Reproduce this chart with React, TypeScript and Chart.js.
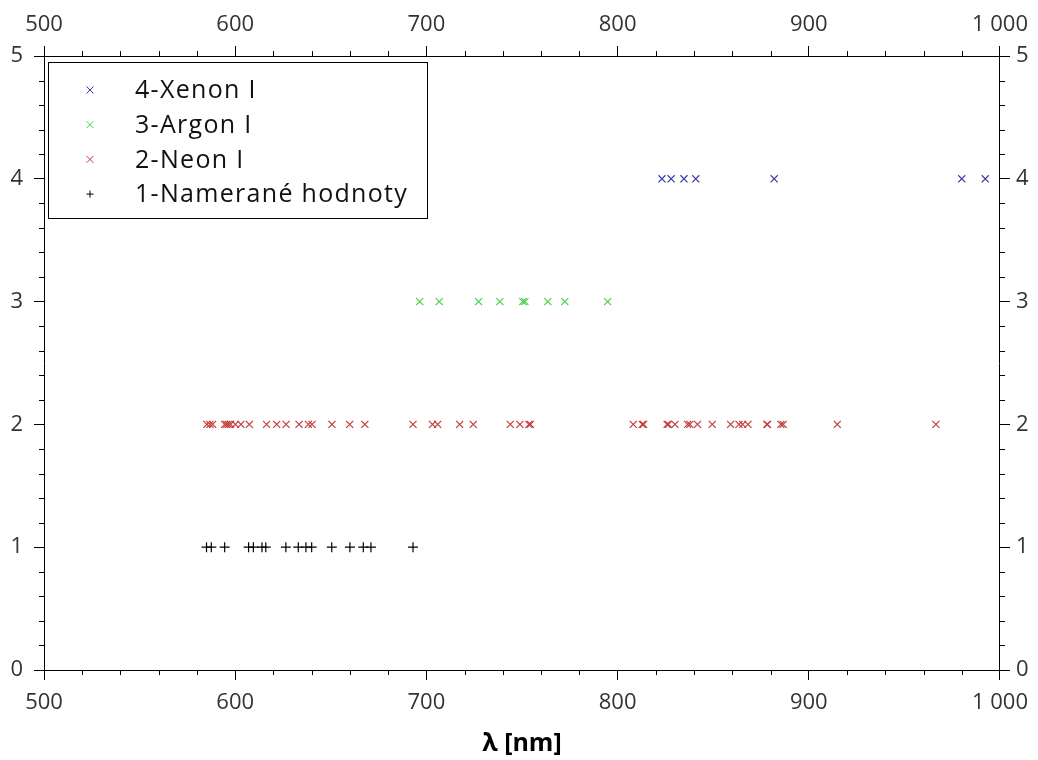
import React, { useEffect, useRef } from "react";
import { Chart, registerables } from "chart.js";

Chart.register(...registerables);

// ---- data (wavelengths in nm) ----
const xenonX = [823.2, 828.0, 834.7, 840.9, 881.9, 980.0, 992.3];
const argonX = [696.5, 706.7, 727.3, 738.4, 750.4, 751.5, 763.5, 772.4, 794.8];
const neonX = [
  585.2, 586.8, 588.2, 594.5, 595.5, 596.5, 597.6, 600.1, 603.0, 607.4, 616.4,
  621.7, 626.6, 633.4, 638.3, 640.2, 650.6, 659.9, 667.8, 693.0, 703.2, 705.9,
  717.4, 724.5, 743.9, 748.9, 753.6, 754.4, 808.2, 812.9, 813.6, 825.9, 826.6,
  830.0, 836.6, 837.8, 841.8, 849.5, 859.1, 863.5, 865.4, 868.2, 878.1, 878.4,
  885.4, 886.6, 914.9, 966.5,
];
const measuredX = [
  585.0, 587.5, 594.5, 607.0, 609.5, 614.0, 616.0, 626.5, 633.0, 637.0, 640.0,
  650.5, 660.0, 667.0, 671.0, 693.0,
];
const seriesLevels = [4, 3, 2, 1];
const seriesLabels = ["4-Xenon I", "3-Argon I", "2-Neon I", "1-Namerané hodnoty"];
const seriesColors = ["#3c3ca0", "#48d048", "#c43c3c", "#000000"];
const seriesStyles = ["crossRot", "crossRot", "crossRot", "cross"];
const xTicks = [500, 600, 700, 800, 900, 1000];
const yTicks = [0, 1, 2, 3, 4, 5];

const FONT = "'Open Sans', 'DejaVu Sans', sans-serif";

const fmt = (v: number) => {
  const s = String(Math.round(v));
  return s.replace(/\B(?=(\d{3})+(?!\d))/g, " ");
};

const minorTicks = {
  id: "minorTicks",
  afterDraw(chart: any) {
    const ctx = chart.ctx;
    const { left, right, top, bottom } = chart.chartArea;
    const xs = chart.scales.x;
    const ys = chart.scales.y;
    ctx.save();
    ctx.strokeStyle = "#000";
    ctx.lineWidth = 1;
    ctx.beginPath();
    for (let v = 520; v < 1000; v += 20) {
      if (v % 100 === 0) continue;
      const px = Math.round(xs.getPixelForValue(v)) + 0.5;
      ctx.moveTo(px, bottom);
      ctx.lineTo(px, bottom + 5);
      ctx.moveTo(px, top);
      ctx.lineTo(px, top - 5);
    }
    for (let i = 1; i < 25; i++) {
      if (i % 5 === 0) continue;
      const py = Math.round(ys.getPixelForValue(i * 0.2)) + 0.5;
      ctx.moveTo(left, py);
      ctx.lineTo(left - 5, py);
      ctx.moveTo(right, py);
      ctx.lineTo(right + 5, py);
    }
    ctx.stroke();

    // legend box
    const bx = left + 4;
    const by = top + 6;
    const bw = 379;
    const bh = 156;
    ctx.fillStyle = "#fff";
    ctx.fillRect(bx, by, bw, bh);
    ctx.strokeStyle = "#000";
    ctx.lineWidth = 1;
    ctx.strokeRect(Math.round(bx) + 0.5, Math.round(by) + 0.5, bw, bh);
    ctx.font = `25px ${FONT}`;
    try {
      (ctx as any).letterSpacing = "1.3px";
    } catch (e) {}
    ctx.textBaseline = "middle";
    ctx.textAlign = "left";
    chart.data.datasets.forEach((ds: any, i: number) => {
      const cy = by + 28 + i * 34.7;
      const mx = bx + 42;
      ctx.strokeStyle = ds.borderColor;
      ctx.lineWidth = 1;
      ctx.beginPath();
      const r = 3.5;
      if (ds.pointStyle === "cross") {
        ctx.moveTo(mx - r, cy);
        ctx.lineTo(mx + r, cy);
        ctx.moveTo(mx, cy - r);
        ctx.lineTo(mx, cy + r);
      } else {
        ctx.moveTo(mx - r, cy - r);
        ctx.lineTo(mx + r, cy + r);
        ctx.moveTo(mx - r, cy + r);
        ctx.lineTo(mx + r, cy - r);
      }
      ctx.stroke();
      ctx.fillStyle = "#111";
      ctx.fillText(ds.label, bx + 87, cy + 1);
    });
    ctx.restore();
  },
};

export default function App() {
  const ref = useRef<HTMLCanvasElement | null>(null);
  useEffect(() => {
    if (!ref.current) return;
    const xsList = [xenonX, argonX, neonX, measuredX];
    const tickFont = { family: FONT, size: 22 };
    const chart = new Chart(ref.current, {
      type: "scatter",
      data: {
        datasets: xsList.map((arr, i) => ({
          label: seriesLabels[i],
          data: arr.map((x) => ({ x, y: seriesLevels[i] })),
          pointStyle: seriesStyles[i] as any,
          pointRadius: 5,
          pointHoverRadius: 5,
          borderColor: seriesColors[i],
          backgroundColor: seriesColors[i],
          borderWidth: 1.2,
          showLine: false,
        })),
      },
      options: {
        responsive: false,
        animation: false,
        devicePixelRatio: 1,
        layout: { padding: 0 },
        plugins: { legend: { display: false }, tooltip: { enabled: false } },
        scales: {
          x: {
            type: "linear",
            position: "bottom",
            min: 500,
            max: 1000,
            afterBuildTicks: (s: any) => {
              s.ticks = xTicks.map((v) => ({ value: v }));
            },
            afterFit: (s: any) => {
              s.height = 90;
            },
            ticks: { font: tickFont, color: "#333", padding: 10, maxRotation: 0, callback: (v: any) => fmt(v) },
            grid: { drawOnChartArea: false, tickLength: 10, color: "#000", tickColor: "#000" },
            border: { display: true, color: "#000", width: 1 },
            title: {
              display: true,
              text: "λ [nm]",
              color: "#000",
              font: { family: FONT, size: 25, weight: "bold" },
              padding: { top: 0, bottom: 1 },
            },
          },
          x2: {
            type: "linear",
            position: "top",
            min: 500,
            max: 1000,
            afterBuildTicks: (s: any) => {
              s.ticks = xTicks.map((v) => ({ value: v }));
            },
            afterFit: (s: any) => {
              s.height = 56;
            },
            ticks: { font: tickFont, color: "#333", padding: 8, maxRotation: 0, callback: (v: any) => fmt(v) },
            grid: { drawOnChartArea: false, tickLength: 10, color: "#000", tickColor: "#000" },
            border: { display: true, color: "#000", width: 1 },
          },
          y: {
            type: "linear",
            position: "left",
            min: 0,
            max: 5,
            afterBuildTicks: (s: any) => {
              s.ticks = yTicks.map((v) => ({ value: v }));
            },
            afterFit: (s: any) => {
              s.width = 44;
            },
            ticks: { font: tickFont, color: "#333", padding: 11 },
            grid: { drawOnChartArea: false, tickLength: 10, color: "#000", tickColor: "#000" },
            border: { display: true, color: "#000", width: 1 },
          },
          y2: {
            type: "linear",
            position: "right",
            min: 0,
            max: 5,
            afterBuildTicks: (s: any) => {
              s.ticks = yTicks.map((v) => ({ value: v }));
            },
            afterFit: (s: any) => {
              s.width = 38;
            },
            ticks: { font: tickFont, color: "#333", padding: 6 },
            grid: { drawOnChartArea: false, tickLength: 10, color: "#000", tickColor: "#000" },
            border: { display: true, color: "#000", width: 1 },
          },
        },
      },
      plugins: [minorTicks],
    });
    return () => chart.destroy();
  }, []);
  return (
    <div style={{ position: "fixed", left: 0, top: 0, width: 1038, height: 760, background: "#fff" }}>
      <canvas ref={ref} width={1038} height={760} />
    </div>
  );
}
